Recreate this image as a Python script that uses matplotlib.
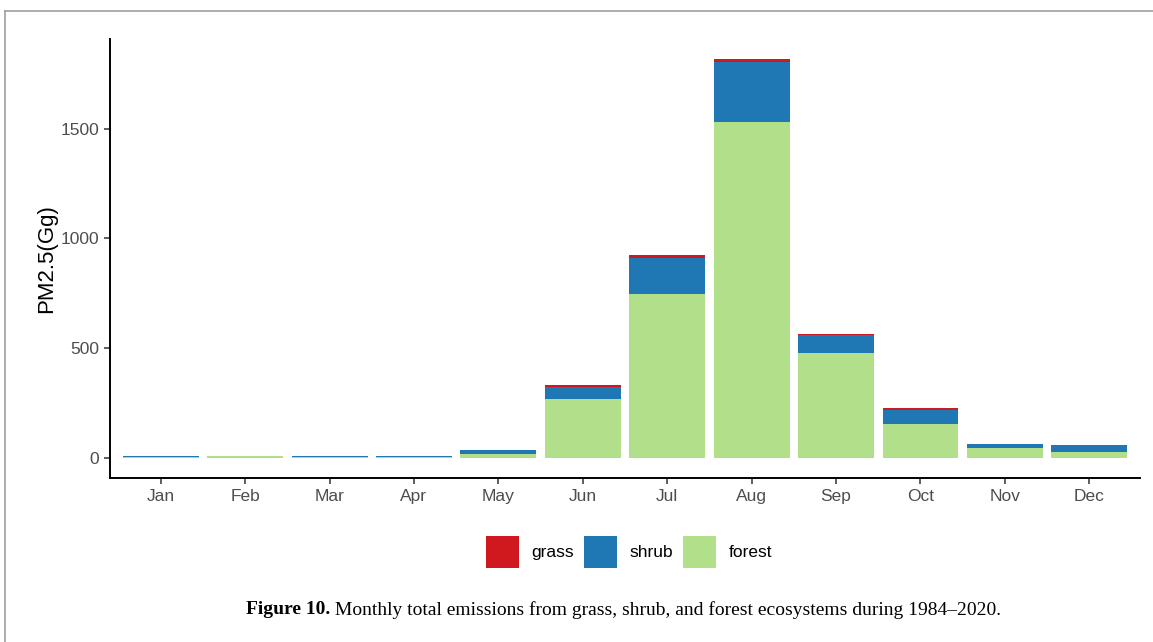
import matplotlib
matplotlib.use("Agg")
import matplotlib.pyplot as plt
from matplotlib.patches import Patch
from matplotlib.lines import Line2D
import numpy as np

months = ["Jan", "Feb", "Mar", "Apr", "May", "Jun", "Jul", "Aug", "Sep", "Oct", "Nov", "Dec"]
forest = [5, 8, 5, 5, 17, 271, 749, 1532, 476, 156, 44, 29]
shrub = [3, 0.5, 3, 6, 18, 53, 163, 273, 83, 61, 18, 30]
grass = [0.3, 0.1, 0.2, 0.3, 2, 8, 14, 12, 8, 13, 1, 1]
yticks = [0, 500, 1000, 1500]
caption_bold = "Figure 10."
caption_rest = " Monthly total emissions from grass, shrub, and forest ecosystems during 1984\u20132020."

c_grass = "#D0191F"
c_shrub = "#1F78B4"
c_forest = "#B2DF8A"

plt.rcParams["font.family"] = ["Liberation Sans", "DejaVu Sans"]

fig = plt.figure(figsize=(11.53, 6.42), dpi=100)
ax = fig.add_axes([110 / 1153, 1 - 478 / 642, (1140 - 110) / 1153, (478 - 39) / 642])

x = np.arange(len(months))
f = np.array(forest, dtype=float)
s = np.array(shrub, dtype=float)
g = np.array(grass, dtype=float)
ax.bar(x, f, width=0.9, color=c_forest, linewidth=0)
ax.bar(x, s, width=0.9, bottom=f, color=c_shrub, linewidth=0)
ax.bar(x, g, width=0.9, bottom=f + s, color=c_grass, linewidth=0)

total_max = (f + s + g).max()
ax.set_xlim(-0.6, len(months) - 1 + 0.6)
ax.set_ylim(-0.05 * total_max, 1.05 * total_max)
ax.set_xticks(x)
ax.set_xticklabels(months)
ax.set_yticks(yticks)
ax.tick_params(axis="both", colors="#333333", labelcolor="#4D4D4D", labelsize=12.5,
               length=4, width=1.1, pad=4)
for side in ["top", "right"]:
    ax.spines[side].set_visible(False)
for side in ["left", "bottom"]:
    ax.spines[side].set_color("black")
    ax.spines[side].set_linewidth(1.4)
ax.set_ylabel("PM2.5(Gg)", fontsize=16, color="black", labelpad=2)

handles = [Patch(facecolor=c_grass, edgecolor="none", label="grass"),
           Patch(facecolor=c_shrub, edgecolor="none", label="shrub"),
           Patch(facecolor=c_forest, edgecolor="none", label="forest")]
fig.legend(handles=handles, loc="center", bbox_to_anchor=(629 / 1153, 1 - 552 / 642),
           ncol=3, frameon=False, fontsize=12.5, handlelength=1.9, handleheight=2.4,
           handletextpad=0.7, columnspacing=0.6)

# caption
cap_size = 14
t1 = fig.text(246 / 1153, 1 - 610 / 642, caption_bold, fontsize=cap_size, fontweight="bold",
              family="Liberation Serif", ha="left", va="center")
fig.canvas.draw()
bb = t1.get_window_extent()
fig.text(bb.x1 / 1153, 1 - 610 / 642, caption_rest, fontsize=cap_size,
         family="Liberation Serif", ha="left", va="center")

# page frame lines
fig.add_artist(Line2D([5 / 1153, 1], [1 - 11 / 642, 1 - 11 / 642], color="#A0A0A0", lw=1.2,
                      transform=fig.transFigure))
fig.add_artist(Line2D([5 / 1153, 5 / 1153], [0, 1 - 11 / 642], color="#A0A0A0", lw=1.2,
                      transform=fig.transFigure))

fig.savefig("out.png", dpi=100, facecolor="white")
